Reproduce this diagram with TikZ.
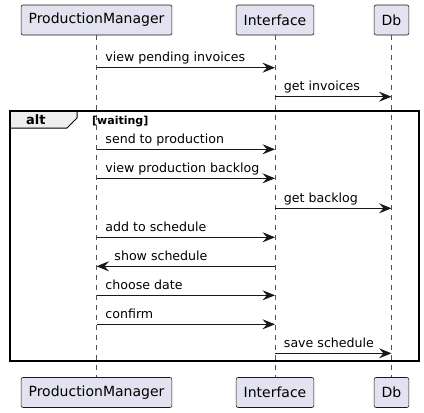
\documentclass[tikz,border=0pt]{standalone}
\usepackage{fontspec}
\setmainfont{DejaVu Sans}
\usetikzlibrary{arrows.meta}

\definecolor{partfill}{HTML}{E2E2F0}
\definecolor{ink}{HTML}{181818}
\definecolor{tabfill}{HTML}{EEEEEE}

\tikzset{
  participant/.style={draw=ink, fill=partfill, line width=0.6pt, rounded corners=2pt,
    minimum height=30pt, inner xsep=7.5pt, font=\fontsize{14}{16}\selectfont},
  lifeline/.style={draw=ink!75, line width=0.5pt, dash pattern=on 5pt off 5pt},
  msg/.style={draw=ink, line width=0.9pt, -{Stealth[length=12.5pt,width=10pt,inset=4.5pt]}},
  lbl/.style={anchor=base west, inner sep=0pt, font=\fontsize{12.6}{14}\selectfont},
}

\begin{document}
\begin{tikzpicture}[x=1pt,y=-1pt]
\useasboundingbox (0,0) rectangle (424,413);

% Participants, top and bottom
\node[participant] (pm) at (96.5,20) {ProductionManager};
\node[participant] (iface) at (275,20) {Interface};
\node[participant] (db) at (391.5,20) {Db};
\node[participant] (pmEnd) at (96.5,392.5) {ProductionManager};
\node[participant] (ifaceEnd) at (275,392.5) {Interface};
\node[participant] (dbEnd) at (391.5,392.5) {Db};

% Lifelines
\draw[lifeline] (pm.south) -- (pmEnd.north);
\draw[lifeline] (iface.south) -- (ifaceEnd.north);
\draw[lifeline] (db.south) -- (dbEnd.north);

% Messages before the alt block
\draw[msg] (pm |- 0,67.7) -- (iface |- 0,67.7) node[lbl, pos=0, xshift=8.5pt, yshift=6pt] {view pending invoices};
\draw[msg] (iface |- 0,96.7) -- (db |- 0,96.7) node[lbl, pos=0, xshift=8.5pt, yshift=6pt] {get invoices};

% Alt frame
\filldraw[fill=tabfill, draw=black, line width=1pt] (10,111) -- (77,111) -- (77,118) -- (67,128) -- (10,128) -- cycle;
\draw[black, line width=1.5pt] (10,111) rectangle (419,361);
\node[anchor=base west, inner sep=0pt, font=\fontsize{13}{15}\selectfont\bfseries] (altlbl) at (26,124) {alt};
\node[anchor=base west, inner sep=0pt, font=\fontsize{11}{13}\selectfont\bfseries] (guard) at (92,124) {[waiting]};

% Messages inside the alt block
\draw[msg] (pm |- 0,149.3) -- (iface |- 0,149.3) node[lbl, pos=0, xshift=8.5pt, yshift=6pt] {send to production};
\draw[msg] (pm |- 0,178.3) -- (iface |- 0,178.3) node[lbl, pos=0, xshift=8.5pt, yshift=6pt] {view production backlog};
\draw[msg] (iface |- 0,208.3) -- (db |- 0,208.3) node[lbl, pos=0, xshift=8.5pt, yshift=6pt] {get backlog};
\draw[msg] (pm |- 0,237.3) -- (iface |- 0,237.3) node[lbl, pos=0, xshift=8.5pt, yshift=6pt] {add to schedule};
\draw[msg] (iface |- 0,266.3) -- (pm |- 0,266.3) node[lbl, pos=1, xshift=17.5pt, yshift=6pt] {show schedule};
\draw[msg] (pm |- 0,295.3) -- (iface |- 0,295.3) node[lbl, pos=0, xshift=8.5pt, yshift=6pt] {choose date};
\draw[msg] (pm |- 0,324.3) -- (iface |- 0,324.3) node[lbl, pos=0, xshift=8.5pt, yshift=6pt] {confirm};
\draw[msg] (iface |- 0,353.3) -- (db |- 0,353.3) node[lbl, pos=0, xshift=8.5pt, yshift=6pt] {save schedule};

\end{tikzpicture}
\end{document}
